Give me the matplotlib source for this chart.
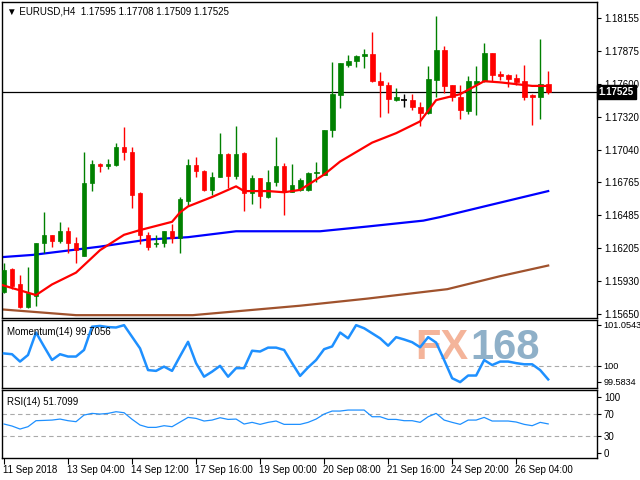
import matplotlib
matplotlib.use("Agg")
import matplotlib.pyplot as plt
import numpy as np

# ---------------- data ----------------
opens  = [1.1584,1.1603,1.1590,1.1571,1.1580,1.1625,1.1632,1.1627,1.1635,1.1625,
          1.1614,1.1676,1.1692,1.1690,1.1691,1.1706,1.1702,1.1667,1.1632,1.1624,
          1.1625,1.1635,1.1629,1.1661,1.1691,1.1686,1.1670,1.1681,1.1700,1.1682,
          1.1701,1.1667,1.1680,1.1664,1.1677,1.1690,1.1668,1.1670,1.1670,1.1684,
          1.1683,1.1721,1.1750,1.1776,1.1779,1.1783,1.1785,1.1762,1.1759,1.1746,
          1.1746,1.1746,1.1740,1.1735,1.1763,1.1788,1.1759,1.1749,1.1737,1.1760,
          1.1762,1.1786,1.1768,1.1767,1.1765,1.1762,1.1750,1.1749,1.17595]
highs  = [1.1608,1.1604,1.1598,1.1605,1.1625,1.1651,1.1632,1.1643,1.1639,1.1630,
          1.1702,1.1695,1.1693,1.1696,1.1710,1.1723,1.1706,1.1668,1.1634,1.1632,
          1.1635,1.1641,1.1664,1.1696,1.1698,1.1687,1.1685,1.1718,1.1701,1.1724,
          1.1702,1.1683,1.1680,1.1687,1.1715,1.1693,1.1692,1.1680,1.1685,1.1694,
          1.1721,1.1778,1.1777,1.1784,1.1784,1.1789,1.1804,1.1770,1.1761,1.1756,
          1.1751,1.1751,1.1744,1.1775,1.1817,1.1792,1.1759,1.1759,1.1766,1.1775,
          1.1794,1.1786,1.1771,1.1768,1.1768,1.1776,1.1751,1.1798,1.17708]
lows   = [1.1583,1.1586,1.1570,1.1570,1.1572,1.1617,1.1622,1.1625,1.1617,1.1608,
          1.1614,1.1669,1.1685,1.1688,1.1690,1.1695,1.1655,1.1624,1.1619,1.1622,
          1.1622,1.1625,1.1617,1.1656,1.1681,1.1669,1.1666,1.1681,1.1672,1.1679,
          1.1652,1.1658,1.1655,1.1663,1.1673,1.1649,1.1668,1.1669,1.1669,1.1677,
          1.1683,1.1715,1.1739,1.1774,1.1774,1.1773,1.1761,1.1732,1.1735,1.1745,
          1.1740,1.1738,1.1724,1.1734,1.1749,1.1752,1.1745,1.1730,1.1734,1.1733,
          1.1761,1.1762,1.1763,1.1757,1.1759,1.1746,1.1725,1.1730,1.17509]
closes = [1.1602,1.1589,1.1571,1.1583,1.1625,1.1632,1.1627,1.1635,1.1625,1.1619,
          1.1676,1.1692,1.1690,1.1692,1.1706,1.1702,1.1666,1.1632,1.1622,1.1625,
          1.1635,1.1629,1.1662,1.1691,1.1686,1.1670,1.1681,1.1700,1.1682,1.1700,
          1.1667,1.1680,1.1665,1.1677,1.1690,1.1668,1.1674,1.1678,1.1684,1.1685,
          1.1721,1.1751,1.1777,1.1779,1.1783,1.1785,1.1762,1.1759,1.1747,1.1749,
          1.1746,1.1740,1.1735,1.1764,1.1788,1.1758,1.1749,1.1738,1.1762,1.1762,
          1.1786,1.1767,1.1766,1.1764,1.1761,1.1749,1.1749,1.1760,1.17525]

ma_red_x = [-0.5,3,4,6,9,12,15,17,21,22,23,26,29,30,33,35,37,40,42,46,49,52,54,57,60,62,66,68]
ma_red_y = [1.1590,1.1583,1.1581,1.1590,1.1600,1.1619,1.1632,1.1636,1.1643,1.1651,1.1656,1.1664,
            1.1673,1.1669,1.1669,1.1668,1.1670,1.1683,1.1694,1.1710,1.1718,1.1728,1.1746,1.1751,
            1.1762,1.1761,1.1758,1.1758]
ma_blue_x = [-0.5,3.6,12,18,23,29,35,37,39.5,45.4,52.4,54.5,60,68]
ma_blue_y = [1.1613,1.1615,1.1622,1.1628,1.1630,1.1635,1.1635,1.1635,1.1635,1.1639,1.1644,1.1647,1.1656,1.1669]
ma_brown_x = [-0.5,9,17,23.6,28.6,37,45.4,55.4,62,66,68]
ma_brown_y = [1.1569,1.1564,1.1564,1.1564,1.1567,1.1572,1.1578,1.1586,1.1597,1.1603,1.1606]

momentum = [100.32,100.30,100.11,100.28,100.86,100.50,100.15,100.30,100.24,100.24,
            100.41,101.01,101.03,101.00,100.99,101.05,100.75,100.45,99.89,99.87,
            99.98,99.87,100.25,100.62,100.07,99.72,99.85,100.00,99.72,99.94,
            99.94,100.39,100.37,100.47,100.47,100.41,100.07,99.74,99.96,100.15,
            100.43,100.50,100.86,100.71,101.05,100.97,100.84,100.71,100.52,100.74,
            100.68,100.61,100.48,100.74,100.60,100.15,99.68,99.58,99.75,99.75,
            100.15,100.02,100.11,100.11,100.07,100.04,100.04,99.89,99.65]
rsi = [51.5,47.9,42.5,46.7,57.5,58.0,58.6,60.4,57.5,55.7,
       67.6,70.6,69.4,70.6,73.6,71.8,60.0,49.7,45.5,45.5,
       48.5,46.7,55.0,63.4,61.6,56.9,58.6,62.8,59.8,60.4,
       51.5,54.5,50.9,54.5,56.9,50.9,50.9,50.9,54.5,60.4,
       69.4,74.8,74.8,76.6,76.6,76.6,64.6,64.6,59.8,59.8,
       57.5,57.5,54.5,64.6,70.6,58.6,54.5,50.9,58.6,58.6,
       63.4,56.9,56.9,56.9,55.1,50.9,48.5,54.5,51.7]

price_ticks = [1.18155,1.17875,1.17600,1.17320,1.17040,1.16765,1.16485,1.16205,1.15930,1.15650]
mom_ticks = [101.0543,100,99.5834]
rsi_ticks = [100,70,30,0]
date_pos = [0,8,16,24,32,40,48,56,64]
date_labels = ["11 Sep 2018","13 Sep 04:00","14 Sep 12:00","17 Sep 16:00","19 Sep 00:00",
               "20 Sep 08:00","21 Sep 16:00","24 Sep 20:00","26 Sep 04:00"]
title = "\u25bc EURUSD,H4  1.17595 1.17708 1.17509 1.17525"
last_price = 1.17525

# ---------------- layout ----------------
W, H = 640, 480
plt.rcParams['font.family'] = ['Liberation Sans', 'DejaVu Sans']
fig = plt.figure(figsize=(6.4, 4.8), dpi=100)
FS = 7

def axpx(x0, y0, x1, y1):
    return fig.add_axes([x0 / W, 1 - y1 / H, (x1 - x0) / W, (y1 - y0) / H])

XL = (-0.25, 74.1)
ax1 = axpx(2, 2, 597, 318)
ax2 = axpx(2, 320, 597, 388)
ax3 = axpx(2, 390, 597, 458)

for a in (ax1, ax2, ax3):
    a.set_xlim(*XL)
    a.yaxis.tick_right()
    a.tick_params(axis='y', labelsize=FS, length=3, pad=2, width=0.8)
    a.tick_params(axis='x', length=0, labelbottom=False)
    for s in a.spines.values():
        s.set_linewidth(1.0)

# candles
x = np.arange(len(opens))
for i in x:
    o, h, l, c = opens[i], highs[i], lows[i], closes[i]
    if c > o:
        col = '#008000'
    elif c < o:
        col = '#ff0000'
    else:
        col = 'black'
    ax1.vlines(i, l, h, color=col, lw=1.0, zorder=3)
    if abs(c - o) < 1e-5:
        ax1.hlines(o, i - 0.35, i + 0.35, color=col, lw=1.2, zorder=4)
    else:
        ax1.bar(i, abs(c - o), bottom=min(o, c), width=0.6, color=col, edgecolor=col, lw=0.5, zorder=4)

ax1.plot(ma_red_x, ma_red_y, color='#ff0000', lw=1.6, zorder=5)
ax1.plot(ma_blue_x, ma_blue_y, color='#0000ff', lw=1.6, zorder=2)
ax1.plot(ma_brown_x, ma_brown_y, color='#a0522d', lw=1.6, zorder=2)
ax1.axhline(last_price, color='black', lw=0.9, zorder=1)

ax1.set_ylim(1.15616, 1.18290)
ax1.set_yticks(price_ticks)
ax1.set_yticklabels([f"{v:.5f}" for v in price_ticks])
ax1.text(1.003, last_price, f"{last_price:.5f}", transform=ax1.get_yaxis_transform(),
         fontsize=FS, color='white', va='center', ha='left', fontweight='bold',
         bbox=dict(boxstyle='square,pad=0.2', fc='black', ec='black'), zorder=10, clip_on=False)
fig.text(7 / W, 1 - 11 / H, title, fontsize=FS, va='center', ha='left')

# momentum
ax2.text(415 / W, 1 - 348 / H, "FX", transform=fig.transFigure, fontsize=30, fontweight='bold',
         color='#f4b49a', va='center', ha='left', zorder=1)
ax2.text(470 / W, 1 - 348 / H, "168", transform=fig.transFigure, fontsize=30, fontweight='bold',
         color='#8fb0c8', va='center', ha='left', zorder=1)
ax2.plot(x, momentum, color='#1e90ff', lw=1.8, zorder=3)
ax2.axhline(100, color='#aaaaaa', lw=0.8, ls=(0, (4, 3)), zorder=2)
ax2.set_ylim(99.428, 101.183)
ax2.set_yticks(mom_ticks)
ax2.set_yticklabels(["101.0543", "100", "99.5834"])
ax2.tick_params(axis='y', labelsize=6.6, pad=1.5)
ax2.text(0.008, 0.9, "Momentum(14) 99.7056", transform=ax2.transAxes, fontsize=FS, va='top', ha='left')

# rsi
ax3.plot(x, rsi, color='#1e90ff', lw=0.9, zorder=3)
for lv in (70, 30):
    ax3.axhline(lv, color='#aaaaaa', lw=0.8, ls=(0, (4, 3)), zorder=1)
ax3.set_ylim(-9.5, 112.6)
ax3.set_yticks(rsi_ticks)
ax3.set_yticklabels([str(v) for v in rsi_ticks])
ax3.text(0.008, 0.9, "RSI(14) 51.7099", transform=ax3.transAxes, fontsize=FS, va='top', ha='left')

ax3.set_xticks(date_pos)
ax3.tick_params(axis='x', length=4, direction='out', width=0.8, labelbottom=False)
for p, lab in zip(date_pos, date_labels):
    ax3.text(p - 0.1, -0.1, lab, transform=ax3.get_xaxis_transform(), fontsize=FS,
             ha='left', va='top')

fig.savefig("out.png", dpi=100)
